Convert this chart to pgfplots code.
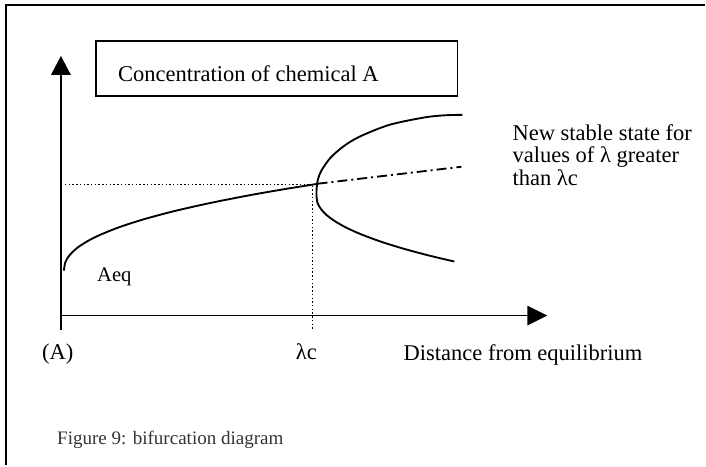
\documentclass[border=0pt]{standalone}
\usepackage{pgfplots}
\pgfplotsset{compat=1.18}
\usepackage{fontspec}
\setmainfont{Liberation Serif}
% coordinates below are in reference pixels, y measured upward (Y = 466 - y_px)
\pgfplotstableread{
x Y
64 195
65 202
66 204.6
68 208.2
72 213
78 218.3
88 224.7
100 230.7
120 238.7
145 246.7
175 254.7
210 262.6
250 270.5
285 276.6
318 281.9
}\maincurve
\pgfplotstableread{
x Y
463 351
445 350.5
425.2 348.4
390 341
359.8 329
343.4 319
330.7 307.7
322 295.4
318.4 286.4
317 276
317 269
317.5 264.7
319 260.6
322 255.9
327 250.7
335 244.7
347 237.9
362 231.2
382 223.8
405 216.7
430 210
455 204.1
}\bifcurve
\pgfplotstableread{
x Y
318 282
462 299
}\unstable
\pgfplotstableread{
x Y
65 281
318 281
}\hdot
\pgfplotstableread{
x Y
313 280
313 136
}\vdot
\begin{document}
\begin{tikzpicture}
\begin{axis}[
  hide axis, scale only axis,
  width=529.5pt, height=349.5pt,
  xmin=0, xmax=706, ymin=0, ymax=466,
  clip=false,
]
\path (axis cs:0,0) rectangle (axis cs:706,466);
% frame
\draw[line width=1.5pt] (axis cs:6,0) -- (axis cs:6,461) -- (axis cs:706,461);
% title box
\draw[line width=1pt] (axis cs:96,425) rectangle (axis cs:458,370);
\node[anchor=base west, font=\fontsize{16.9}{20}\selectfont, inner sep=0pt] at (axis cs:118,384) {Concentration of chemical A};
% axes arrows
\draw[line width=1.1pt] (axis cs:61,136) -- (axis cs:61,392);
\fill (axis cs:51,391) -- (axis cs:71,391) -- (axis cs:61,410) -- cycle;
\draw[line width=1.1pt] (axis cs:61,150) -- (axis cs:529,150);
\fill (axis cs:528,160) -- (axis cs:528,140) -- (axis cs:548,150) -- cycle;
% data
\addplot[black, line width=1.1pt, dash pattern=on 1.1pt off 1.7pt] table[x=x,y=Y] {\hdot};
\addplot[black, line width=1.1pt, dash pattern=on 1.1pt off 1.7pt] table[x=x,y=Y] {\vdot};
\addplot[black, line width=1.4pt, smooth, tension=0.5] table[x=x,y=Y] {\maincurve};
\addplot[black, line width=1.4pt, smooth, tension=0.5] table[x=x,y=Y] {\bifcurve};
\addplot[black, line width=1.4pt, dash pattern=on 7.5pt off 3pt on 1.5pt off 3pt] table[x=x,y=Y] {\unstable};
% labels
\node[anchor=base west, font=\fontsize{16.9}{20}\selectfont, inner sep=0pt] at (axis cs:513,325) {New stable state for};
\node[anchor=base west, font=\fontsize{16.9}{20}\selectfont, inner sep=0pt] at (axis cs:513,303) {values of λ greater};
\node[anchor=base west, font=\fontsize{16.9}{20}\selectfont, inner sep=0pt] at (axis cs:513,280) {than λc};
\node[anchor=base west, font=\fontsize{15.5}{18}\selectfont, inner sep=0pt] at (axis cs:97,184) {Aeq};
\node[anchor=base west, font=\fontsize{16.9}{20}\selectfont, inner sep=0pt] at (axis cs:42,106) {(A)};
\node[anchor=base west, font=\fontsize{16.9}{20}\selectfont, inner sep=0pt] at (axis cs:296,106) {λc};
\node[anchor=base west, font=\fontsize{16.9}{20}\selectfont, inner sep=0pt] at (axis cs:404,105) {Distance from equilibrium};
\node[anchor=base west, font=\fontsize{14.3}{17}\selectfont, inner sep=0pt, text=black!80] at (axis cs:57,21) {Figure 9: bifurcation diagram};
\end{axis}
\end{tikzpicture}
\end{document}
